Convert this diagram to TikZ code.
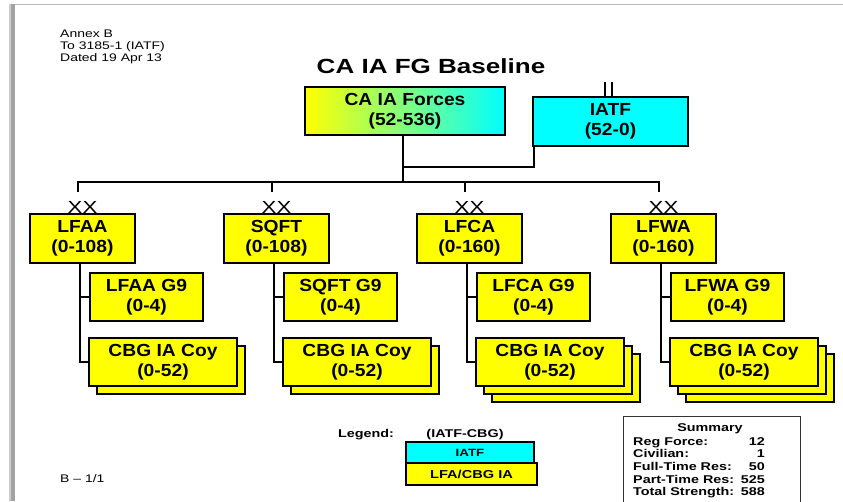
\documentclass[tikz,border=0pt]{standalone}
\usepackage{fontspec}
\setmainfont{Liberation Sans}
\newfontfamily\widefont[FakeStretch=1.27]{Liberation Sans}
\newfontfamily\boxfont[FakeStretch=1.1]{Liberation Sans}
\definecolor{unityellow}{RGB}{255,255,0}
\definecolor{unitcyan}{RGB}{0,255,255}
\begin{document}
\begin{tikzpicture}[x=1pt,y=-1pt,
  conn/.style={draw=black,line width=2.3pt},
  unitbox/.style={draw=black,line width=2.6pt,fill=unityellow,inner sep=0pt,align=center,
    font=\boxfont\bfseries\fontsize{17.5}{20}\selectfont},
  smalltext/.style={inner sep=0pt,font=\widefont\fontsize{11}{11}\selectfont},
  sumtext/.style={inner sep=0pt,font=\widefont\bfseries\fontsize{11.3}{11.3}\selectfont},
  legbox/.style={draw=black,line width=2pt,inner sep=0pt,
    font=\widefont\bfseries\fontsize{10.5}{10.5}\selectfont}]
\useasboundingbox (0,0) rectangle (843,501);

% page edge
\fill[black!36] (10,4) rectangle (15,501);
\fill[black!20] (9,4) rectangle (10.5,501);
\draw[black!28,line width=1pt] (15,4) -- (843,4);

% header
\node[smalltext,anchor=base west] (annex) at (60,37) {Annex B};
\node[smalltext,anchor=base west] (to) at (60,49.3) {To 3185-1 (IATF)};
\node[smalltext,anchor=base west] (dated) at (60,61.6) {Dated 19 Apr 13};
\node[inner sep=0pt,anchor=base,font=\widefont\bfseries\fontsize{20.5}{20.5}\selectfont] (title)
  at (431,73.3) {CA IA FG Baseline};

% top level
\node[unitbox,fill=none,left color=unityellow,right color=unitcyan,
  minimum width=200pt,minimum height=48pt] (ca) at (405,111) {CA IA Forces\\(52-536)};
\node[unitbox,fill=unitcyan,minimum width=155pt,minimum height=49pt] (iatf) at (610.5,121.5)
  {IATF\\(52-0)};
\draw[line width=2pt] ([xshift=-6pt]iatf.north) -- ++(0,-14);
\draw[line width=2pt] ([xshift=1pt]iatf.north) -- ++(0,-14);

\coordinate (bus) at (0,182);
\coordinate (tie) at (403,167);
\draw[conn] ([xshift=2pt]iatf.south west) |- (tie);

% divisions
\foreach \L/\nm/\num/\layers in {30/LFAA/108/1,224/SQFT/108/1,417/LFCA/160/2,611/LFWA/160/2}{
  \node[unitbox,minimum width=105pt,minimum height=49pt] (div-\nm) at (\L+52.5,238.5)
    {\nm\\(0-\num)};
  \node[inner sep=0pt,anchor=base,font=\widefont\fontsize{17.5}{17.5}\selectfont] (xx-\nm)
    at (\L+52.5,213.5) {XX};
  \coordinate (drop-\nm) at (\L+48,192);
  \node[unitbox,minimum width=113pt,minimum height=48pt] (g9-\nm) at (\L+116.5,297)
    {\nm{} G9\\(0-4)};
  \foreach \k in {\layers,...,1}{
    \node[unitbox,minimum width=148pt,minimum height=48pt] (cbg-\nm-\k)
      at (\L+133+8*\k,362+8*\k) {};
  }
  \node[unitbox,minimum width=148pt,minimum height=48pt] (cbg-\nm) at (\L+133,362)
    {CBG IA Coy\\(0-52)};
  \coordinate (trunk-\nm) at (\L+50,263);
  \draw[conn] (trunk-\nm) |- (cbg-\nm.west);
  \draw[conn] (trunk-\nm) |- (g9-\nm.west);
}

% bus
\draw[conn] (drop-LFAA) -- (drop-LFAA |- bus) -| (drop-LFWA);
\draw[conn] (drop-SQFT) -- (drop-SQFT |- bus);
\draw[conn] (drop-LFCA) -- (drop-LFCA |- bus);
\draw[conn] (ca.south -| tie) -- (tie |- bus);

% legend
\node[sumtext,anchor=base west] (legend) at (338,437) {Legend:};
\node[sumtext,anchor=base] (legsub) at (465,437) {(IATF-CBG)};
\node[legbox,fill=unitcyan,minimum width=128pt,minimum height=21pt] (leg-iatf) at (470,452.5) {IATF};
\node[legbox,fill=unityellow,minimum width=131pt,minimum height=22pt] (leg-lfa) at (471.5,474)
  {\fontsize{11.5}{11.5}\selectfont LFA/CBG IA};

% summary
\node[draw=black!80,line width=1.3pt,minimum width=177pt,minimum height=100pt,anchor=north west]
  (summary) at (623,416) {};
\node[sumtext,anchor=base] (sum-title) at (710,431) {Summary};
\foreach \i/\lab/\val in {0/Reg Force:/12,1/Civilian:/1,2/Full-Time Res:/50,
    3/Part-Time Res:/525,4/Total Strength:/588}{
  \node[sumtext,anchor=base west] (sum-l\i) at (633,445+12.7*\i) {\lab};
  \node[sumtext,anchor=base east] (sum-v\i) at (765,445+12.7*\i) {\val};
}

% page number
\node[smalltext,anchor=base west] (pageno) at (60,482) {B – 1/1};
\end{tikzpicture}
\end{document}
